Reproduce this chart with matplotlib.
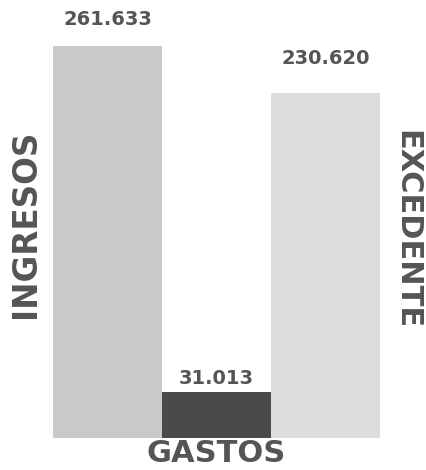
import numpy as np
import matplotlib.pyplot as plt

# data
categorias = ["INGRESOS", "GASTOS", "EXCEDENTE"]
valores = [261633, 31013, 230620]
etiquetas = ["261.633", "31.013", "230.620"]
colores = ["#c9c9c9", "#4a4a4a", "#dcdcdc"]

gris = "#555555"
offsets = [12, 2.5, 18]  # gap between bar top and value label, points

fig = plt.figure(figsize=(4.27, 4.70), dpi=100)
ax = fig.add_axes([0.124, 0.068, 0.766, 0.834])

x = np.arange(len(valores))
ax.bar(x, valores, width=1.0, color=colores)
ax.set_xlim(-0.5, 2.5)
ax.set_ylim(0, max(valores))
ax.axis("off")

# value labels above the bars
for xi, v, t, off in zip(x, valores, etiquetas, offsets):
    ax.annotate(t, (xi, v), xytext=(0, off), textcoords="offset points",
                ha="center", va="bottom", fontsize=14, fontweight="bold",
                color=gris, annotation_clip=False)

# category labels
ax.annotate(categorias[0], (-0.5, max(valores) * 0.546), xytext=(-8, 0),
            textcoords="offset points", rotation=90, ha="right", va="center",
            fontsize=23.5, fontweight="bold", color=gris, annotation_clip=False)
ax.annotate(categorias[1], (1, 0), xytext=(0, -1), textcoords="offset points",
            ha="center", va="top", fontsize=22, fontweight="bold", color=gris,
            annotation_clip=False)
ax.annotate(categorias[2], (2.5, max(valores) * 0.533), xytext=(9, 0),
            textcoords="offset points", rotation=-90, ha="left", va="center",
            fontsize=22, fontweight="bold", color=gris, annotation_clip=False)

fig.savefig("out.png", dpi=100)
